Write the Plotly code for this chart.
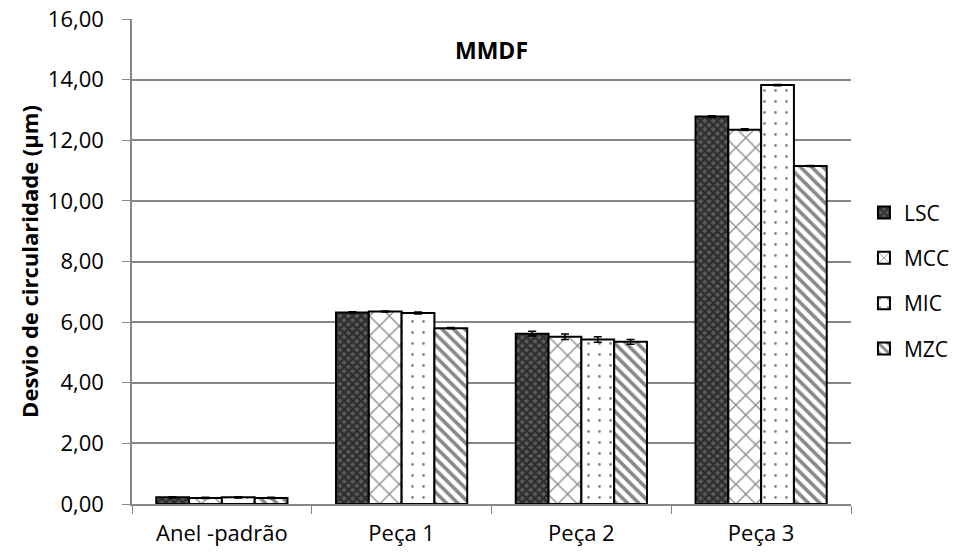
import plotly.graph_objects as go

categories = ["Anel -padrão", "Peça 1", "Peça 2", "Peça 3"]
series_names = ["LSC", "MCC", "MIC", "MZC"]
lsc = [0.22, 6.32, 5.62, 12.78]
mcc = [0.20, 6.35, 5.52, 12.35]
mic = [0.22, 6.30, 5.43, 13.82]
mzc = [0.20, 5.80, 5.35, 11.15]
lsc_err = [0.02, 0.02, 0.08, 0.03]
mcc_err = [0.02, 0.02, 0.09, 0.03]
mic_err = [0.02, 0.03, 0.09, 0.02]
mzc_err = [0.02, 0.02, 0.08, 0.02]

values = [lsc, mcc, mic, mzc]
errors = [lsc_err, mcc_err, mic_err, mzc_err]
patterns = [
    dict(shape="x", fgcolor="#000000", bgcolor="#5a5a5a", size=6, solidity=0.6),
    dict(shape="x", fgcolor="#111111", bgcolor="white", size=14, solidity=0.18),
    dict(shape=".", fgcolor="#111111", bgcolor="white", size=11, solidity=0.05),
    dict(shape="\\", fgcolor="#111111", bgcolor="white", size=8, solidity=0.45),
]

fig = go.Figure()
for name, vals, errs, pat in zip(series_names, values, errors, patterns):
    fig.add_trace(go.Bar(
        name=name, x=categories, y=vals, legendgroup=name,
        marker=dict(color="white", line=dict(color="black", width=2), pattern=pat),
        error_y=dict(type="data", array=errs, color="black", thickness=1.5, width=4),
    ))

font_family = "Open Sans, Liberation Sans, sans-serif"
fig.update_layout(
    width=971, height=557,
    margin=dict(l=132, r=120, t=19, b=53),
    plot_bgcolor="white", paper_bgcolor="white",
    barmode="group", bargap=0.27, bargroupgap=0,
    separators=",.",
    font=dict(family=font_family, size=22, color="black"),
    legend=dict(x=1.018, y=0.46, yanchor="middle", xanchor="left",
                font=dict(size=21), itemwidth=30, tracegroupgap=15),
    showlegend=True,
    annotations=[dict(text="<b>MMDF</b>", x=0.5, y=(504 - 50) / 485, xref="paper", yref="y domain",
                      xanchor="center", yanchor="middle",
                      showarrow=False, font=dict(size=23))],
)
fig.update_xaxes(showline=True, linecolor="#868686", linewidth=1.5, automargin=False,
                 ticks="outside", tickson="boundaries", ticklen=8, tickcolor="#868686",
                 tickfont=dict(size=22), ticklabelstandoff=9)
fig.update_yaxes(range=[0, 16], dtick=2, tickformat=".2f", automargin=False,
                 showgrid=True, gridcolor="#868686", gridwidth=1.5,
                 showline=True, linecolor="#868686", linewidth=1.5,
                 ticks="outside", ticklen=8, tickcolor="#868686",
                 zeroline=False, ticklabelstandoff=14,
                 title=dict(text="<b>Desvio de circularidade (µm)</b>", font=dict(size=22), standoff=3),
                 tickfont=dict(size=22))

fig.write_html("out.html")
